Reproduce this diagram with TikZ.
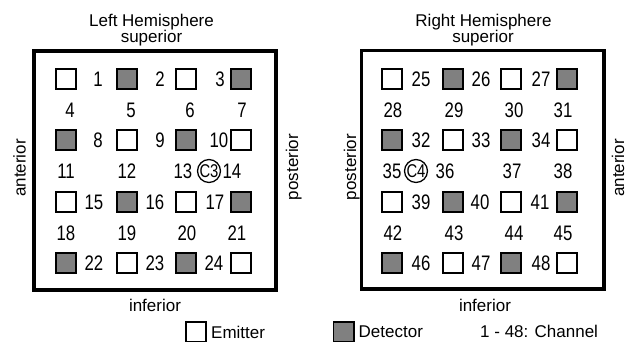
\documentclass[tikz,border=0pt]{standalone}
\usepackage{fontspec}
\setmainfont{Liberation Sans}
\newfontfamily\narrowfont[FakeStretch=0.8]{Liberation Sans}
\usetikzlibrary{positioning}
\definecolor{detgray}{gray}{0.5}
\newcommand\lblfont{\fontsize{17}{20}\selectfont}
\newcommand\chfont{\narrowfont\fontsize{21}{24}\selectfont}
\newcommand\refpfont{\narrowfont\fontsize{18.5}{20}\selectfont}

\begin{document}
\begin{tikzpicture}[x=1pt, y=-1pt,
  every node/.style={font=\lblfont},
  opt/.style={rectangle, draw, line width=1.7pt, minimum size=20.3pt, inner sep=0pt},
  em/.style ={opt, fill=white},
  det/.style={opt, fill=detgray},
  ch/.style ={font=\chfont, inner sep=0pt},
  refp/.style={circle, draw, line width=1.3pt, minimum size=19.5pt, inner sep=0pt, font=\refpfont},
  frm/.style={draw, line width=3.2pt},
  ttl/.style={anchor=base, inner sep=0pt},
  side/.style={rotate=90, anchor=base}
]
\useasboundingbox (0,0) rectangle (630,341);

%% frames
\draw[frm] (34,51) rectangle (276,290);
\draw[frm] (361.5,50.5) rectangle (604,289);

%% titles and directions
\node[ttl] (ltitle) at (151.5,26.5) {Left Hemisphere};
\node[ttl] (lsup)   at (151.5,42)   {superior};
\node[ttl] (linf)   at (155,311.5)  {inferior};
\node[side] (lant)  at (25.5,168) {anterior};
\node[side] (lpost) at (298,167)  {posterior};
\node[ttl] (rtitle) at (483.5,26.5) {Right Hemisphere};
\node[ttl] (rsup)   at (483,42)     {superior};
\node[ttl] (rinf)   at (485,311.5)  {inferior};
\node[side] (rpost) at (356,167) {posterior};
\node[side] (rant)  at (624,168) {anterior};

%% emitters
\foreach \nm/\x/\y in {le1/66/79,le2/186/79,le3/127/140,le4/241/140,
                       le5/66/202,le6/186/202,le7/127/263,le8/241/263,
                       re1/392/79,re2/511/79,re3/453/140,re4/567/140,
                       re5/392/202,re6/511/202,re7/453/263,re8/567/263}
  \node[em] (\nm) at (\x,\y) {};

%% detectors
\foreach \nm/\x/\y in {ld1/127/79,ld2/241/79,ld3/66/140,ld4/186/140,
                       ld5/127/202,ld6/241/202,ld7/66/263,ld8/186/263,
                       rd1/453/79,rd2/567/79,rd3/392/140,rd4/511/140,
                       rd5/453/202,rd6/567/202,rd7/392/263,rd8/511/263}
  \node[det] (\nm) at (\x,\y) {};

%% channels, left hemisphere
\foreach \n/\x/\y in {1/98/79,2/160/79,3/220/79,
                      4/70/110,5/131/110,6/190/110,7/242/110,
                      8/98/140,9/160/140,10/219/140,
                      11/66/171,12/127/171,13/183/171,14/232/171,
                      15/94/202,16/155/202,17/215/202,
                      18/66/233,19/127/233,20/187/233,21/237/233,
                      22/94/263,23/155/263,24/214/263}
  \node[ch] (ch\n) at (\x,\y) {\n};

%% channels, right hemisphere
\foreach \n/\x/\y in {25/421/79,26/481/79,27/541/79,
                      28/393/110,29/454/110,30/514/110,31/563/110,
                      32/421/140,33/481/140,34/541/140,
                      35/392/171,36/445/171,37/512/171,38/563/171,
                      39/421/202,40/480/202,41/540/202,
                      42/393/233,43/454/233,44/514/233,45/563/233,
                      46/421/263,47/481/263,48/541/263}
  \node[ch] (ch\n) at (\x,\y) {\n};

%% reference points
\node[refp] (c3) at (209,171) {C3};
\node[refp] (c4) at (416,171) {C4};

%% legend
\node[em]  (legem)  at (196,332) {};
\node[right=4pt of legem, inner sep=0pt]  (legemt)  {Emitter};
\node[det] (legdet) at (343.5,332) {};
\node[right=4pt of legdet, inner sep=0pt] (legdett) {Detector};
\node[anchor=base west, inner sep=0pt] (legch) at (480,337) {1 - 48: Channel};
\end{tikzpicture}
\end{document}
